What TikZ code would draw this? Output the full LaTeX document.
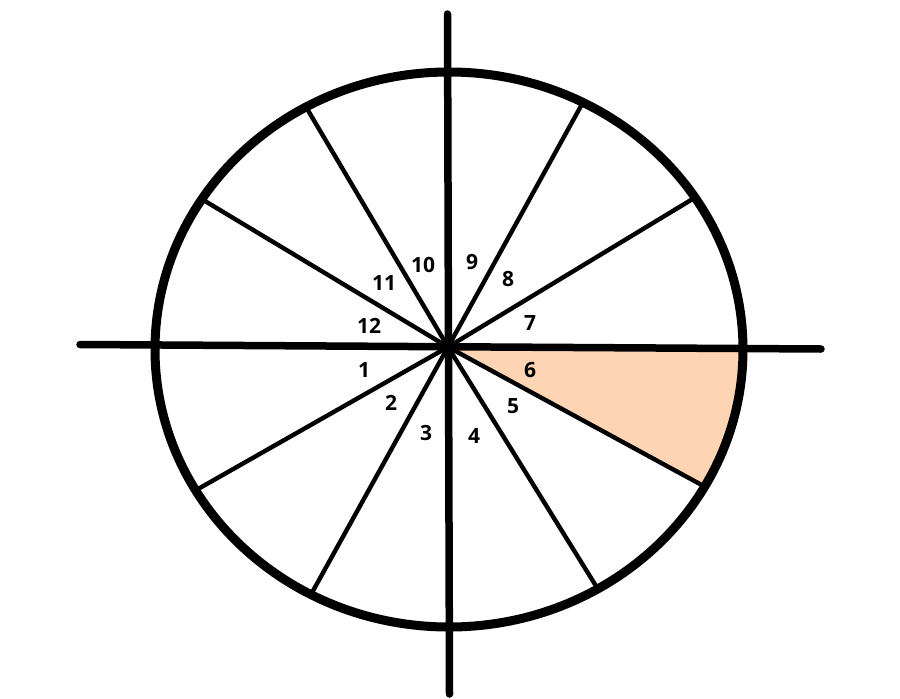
\documentclass[tikz,border=0pt]{standalone}
\usepackage{fontspec}
\setmainfont{Open Sans}
\usetikzlibrary{calc}
\definecolor{peach}{RGB}{253,213,180}
\begin{document}
\begin{tikzpicture}[x=1pt,y=-1pt,
  spoke/.style={line width=4.4pt},
  axisline/.style={line width=7.5pt,line cap=round},
  rim/.style={line width=9pt},
  num/.style={font=\fontsize{21}{21}\selectfont\bfseries,inner sep=0pt}]
\useasboundingbox (0,0) rectangle (900,699);
\fill[white] (0,0) rectangle (900,699);
% centres
\coordinate (O) at (449,349.5);   % ellipse centre
\coordinate (C) at (448,347);     % hub of the spokes
% spoke ends on the rim
\coordinate (s10) at ($(O)+(240.9:294 and 277.5)$);
\coordinate (s11) at ($(O)+(212.8:294 and 277.5)$);
\coordinate (s1)  at ($(O)+(149.5:294 and 277.5)$);
\coordinate (s2)  at ($(O)+(118.0:294 and 277.5)$);
\coordinate (s4)  at ($(O)+(59.6:294 and 277.5)$);
\coordinate (s5)  at ($(O)+(29.6:294 and 277.5)$);
\coordinate (s7)  at ($(O)+(-33.2:294 and 277.5)$);
\coordinate (s8)  at ($(O)+(-62.9:294 and 277.5)$);
\coordinate (r0)  at ($(O)+(0:294 and 277.5)$);
% axis ends
\coordinate (top) at (447.5,14);
\coordinate (bot) at (449.5,694);
\coordinate (lft) at (80,344.5);
\coordinate (rgt) at (821,349);
% shaded sector 6
\fill[peach] (C) -- (r0) arc[start angle=0,end angle=29.6,x radius=294,y radius=277.5] -- cycle;
% spokes
\foreach \s in {s10,s11,s1,s2,s4,s5,s7,s8} \draw[spoke] (C) -- (\s);
% axes
\draw[axisline] (top) -- (bot);
\draw[axisline] (lft) -- (rgt);
% rim
\draw[rim] (O) ellipse[x radius=294,y radius=277.5];
% labels
\node[num] (n10) at (423,265) {10};
\node[num] (n9)  at (472,262) {9};
\node[num] (n11) at (384,283) {11};
\node[num] (n8)  at (508,279) {8};
\node[num] (n12) at (369,326) {12};
\node[num] (n7)  at (530,323) {7};
\node[num] (n1)  at (364,370) {1};
\node[num] (n6)  at (530,370) {6};
\node[num] (n2)  at (391,403) {2};
\node[num] (n5)  at (513,406) {5};
\node[num] (n3)  at (426,433) {3};
\node[num] (n4)  at (474,436) {4};
\end{tikzpicture}
\end{document}
